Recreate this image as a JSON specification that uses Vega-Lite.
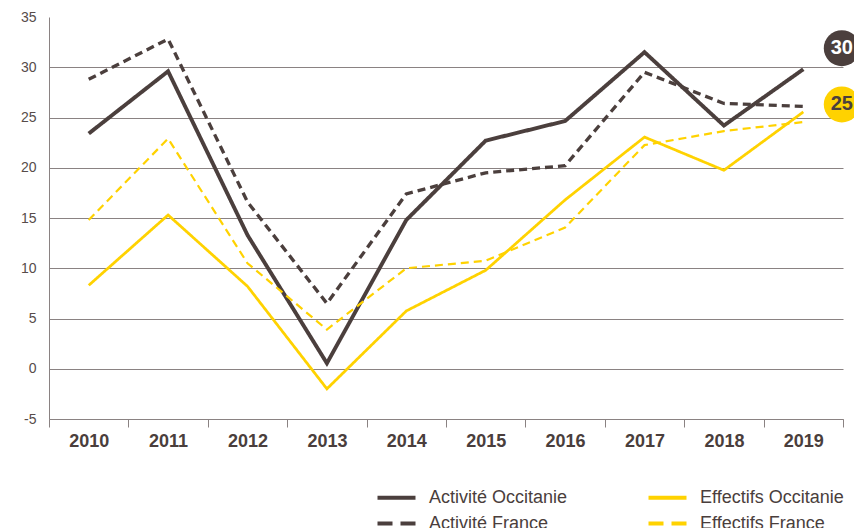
{
  "$schema": "https://vega.github.io/schema/vega-lite/v6.json",
  "width": 794,
  "height": 402,
  "autosize": {"type": "none"},
  "padding": {"left": 49, "top": 17, "right": 11, "bottom": 109},
  "background": "white",
  "config": {
    "view": {"stroke": null},
    "font": "Liberation Sans",
    "axis": {"labelFont": "Liberation Sans", "labelColor": "#4a3e3c", "domainColor": "#8a8282", "gridColor": "#8a8282", "tickColor": "#8a8282"}
  },
  "datasets": {
    "series": [
      {"year": "2010", "serie": "Activité Occitanie", "value": 23.4},
      {"year": "2011", "serie": "Activité Occitanie", "value": 29.6},
      {"year": "2012", "serie": "Activité Occitanie", "value": 13.3},
      {"year": "2013", "serie": "Activité Occitanie", "value": 0.55},
      {"year": "2014", "serie": "Activité Occitanie", "value": 14.8},
      {"year": "2015", "serie": "Activité Occitanie", "value": 22.7},
      {"year": "2016", "serie": "Activité Occitanie", "value": 24.65},
      {"year": "2017", "serie": "Activité Occitanie", "value": 31.5},
      {"year": "2018", "serie": "Activité Occitanie", "value": 24.2},
      {"year": "2019", "serie": "Activité Occitanie", "value": 29.8},
      {"year": "2010", "serie": "Activité France", "value": 28.8},
      {"year": "2011", "serie": "Activité France", "value": 32.8},
      {"year": "2012", "serie": "Activité France", "value": 16.6},
      {"year": "2013", "serie": "Activité France", "value": 6.5},
      {"year": "2014", "serie": "Activité France", "value": 17.4},
      {"year": "2015", "serie": "Activité France", "value": 19.5},
      {"year": "2016", "serie": "Activité France", "value": 20.2},
      {"year": "2017", "serie": "Activité France", "value": 29.5},
      {"year": "2018", "serie": "Activité France", "value": 26.4},
      {"year": "2019", "serie": "Activité France", "value": 26.1},
      {"year": "2010", "serie": "Effectifs Occitanie", "value": 8.3},
      {"year": "2011", "serie": "Effectifs Occitanie", "value": 15.3},
      {"year": "2012", "serie": "Effectifs Occitanie", "value": 8.2},
      {"year": "2013", "serie": "Effectifs Occitanie", "value": -2.0},
      {"year": "2014", "serie": "Effectifs Occitanie", "value": 5.75},
      {"year": "2015", "serie": "Effectifs Occitanie", "value": 9.8},
      {"year": "2016", "serie": "Effectifs Occitanie", "value": 16.8},
      {"year": "2017", "serie": "Effectifs Occitanie", "value": 23.05},
      {"year": "2018", "serie": "Effectifs Occitanie", "value": 19.75},
      {"year": "2019", "serie": "Effectifs Occitanie", "value": 25.55},
      {"year": "2010", "serie": "Effectifs France", "value": 14.8},
      {"year": "2011", "serie": "Effectifs France", "value": 22.9},
      {"year": "2012", "serie": "Effectifs France", "value": 10.5},
      {"year": "2013", "serie": "Effectifs France", "value": 3.9},
      {"year": "2014", "serie": "Effectifs France", "value": 10.0},
      {"year": "2015", "serie": "Effectifs France", "value": 10.75},
      {"year": "2016", "serie": "Effectifs France", "value": 14.05},
      {"year": "2017", "serie": "Effectifs France", "value": 22.25},
      {"year": "2018", "serie": "Effectifs France", "value": 23.65},
      {"year": "2019", "serie": "Effectifs France", "value": 24.55}
    ],
    "badges": [
      {"year": "2019", "label": "30", "pos": 31.9, "kind": "Activité"},
      {"year": "2019", "label": "25", "pos": 26.3, "kind": "Effectifs"}
    ]
  },
  "layer": [
    {
      "data": {"name": "series"},
      "mark": {"type": "line", "strokeCap": "butt", "strokeJoin": "miter"},
      "encoding": {
        "x": {
          "field": "year", "type": "ordinal", "bandPosition": 0.5,
          "scale": {"type": "band", "paddingInner": 0, "paddingOuter": 0},
          "axis": {
            "title": null, "tickBand": "extent", "tickSize": 8, "labelAngle": 0,
            "labelFontSize": 18, "labelFontWeight": "bold", "labelPadding": 5, "grid": false
          }
        },
        "y": {
          "field": "value", "type": "quantitative",
          "scale": {"domain": [-5, 35], "nice": false, "zero": false},
          "axis": {
            "title": null, "values": [-5, 0, 5, 10, 15, 20, 25, 30, 35], "ticks": false,
            "labelFontSize": 14, "labelPadding": 13, "grid": true, "labelColor": "#574c4a",
            "labelExpr": "'' + datum.value",
            "gridOpacity": {"condition": {"test": "datum.value === 35", "value": 0}, "value": 1}
          }
        },
        "color": {
          "field": "serie", "type": "nominal",
          "scale": {
            "domain": ["Activité Occitanie", "Activité France", "Effectifs Occitanie", "Effectifs France"],
            "range": ["#4b3f3d", "#4b3f3d", "#ffd200", "#ffd200"]
          },
          "legend": {
            "title": null, "orient": "none", "legendX": 336, "legendY": 469, "columns": 2,
            "columnPadding": 72, "rowPadding": 5, "padding": 0,
            "symbolType": "M-2,0H2", "symbolSize": 361, "symbolStrokeWidth": 4,
            "labelFontSize": 18, "labelColor": "#4a3e3c", "labelOffset": 21, "labelFont": "Liberation Sans",
            "encode": {"symbols": {"update": {"strokeDash": {"signal": "indexof(datum.value, 'France') >= 0 ? [15, 8] : [1, 0]"}}}}
          }
        },
        "strokeDash": {
          "field": "serie", "type": "nominal",
          "scale": {
            "domain": ["Activité Occitanie", "Activité France", "Effectifs Occitanie", "Effectifs France"],
            "range": [[1, 0], [8, 5], [1, 0], [8, 5]]
          },
          "legend": null
        },
        "strokeWidth": {
          "field": "serie", "type": "nominal",
          "scale": {
            "domain": ["Activité Occitanie", "Activité France", "Effectifs Occitanie", "Effectifs France"],
            "range": [3.9, 2.2, 3.9, 2.2]
          },
          "legend": null
        }
      }
    },
    {
      "data": {"name": "badges"},
      "mark": {"type": "circle", "opacity": 1, "size": 1300},
      "encoding": {
        "x": {"field": "year", "type": "ordinal", "bandPosition": 0.985},
        "y": {"field": "pos", "type": "quantitative"},
        "color": {
          "field": "kind", "type": "nominal",
          "scale": {"domain": ["Activité", "Effectifs"], "range": ["#4b3f3d", "#ffd200"]},
          "legend": null
        }
      }
    },
    {
      "data": {"name": "badges"},
      "mark": {"type": "text", "fontSize": 20, "fontWeight": "bold", "font": "Liberation Sans", "align": "center", "baseline": "middle"},
      "encoding": {
        "x": {"field": "year", "type": "ordinal", "bandPosition": 0.985},
        "y": {"field": "pos", "type": "quantitative"},
        "text": {"field": "label"},
        "color": {
          "field": "kind", "type": "nominal",
          "scale": {"domain": ["Activité", "Effectifs"], "range": ["#ffffff", "#4b3f3d"]},
          "legend": null
        }
      }
    }
  ],
  "resolve": {"scale": {"color": "independent"}}
}
